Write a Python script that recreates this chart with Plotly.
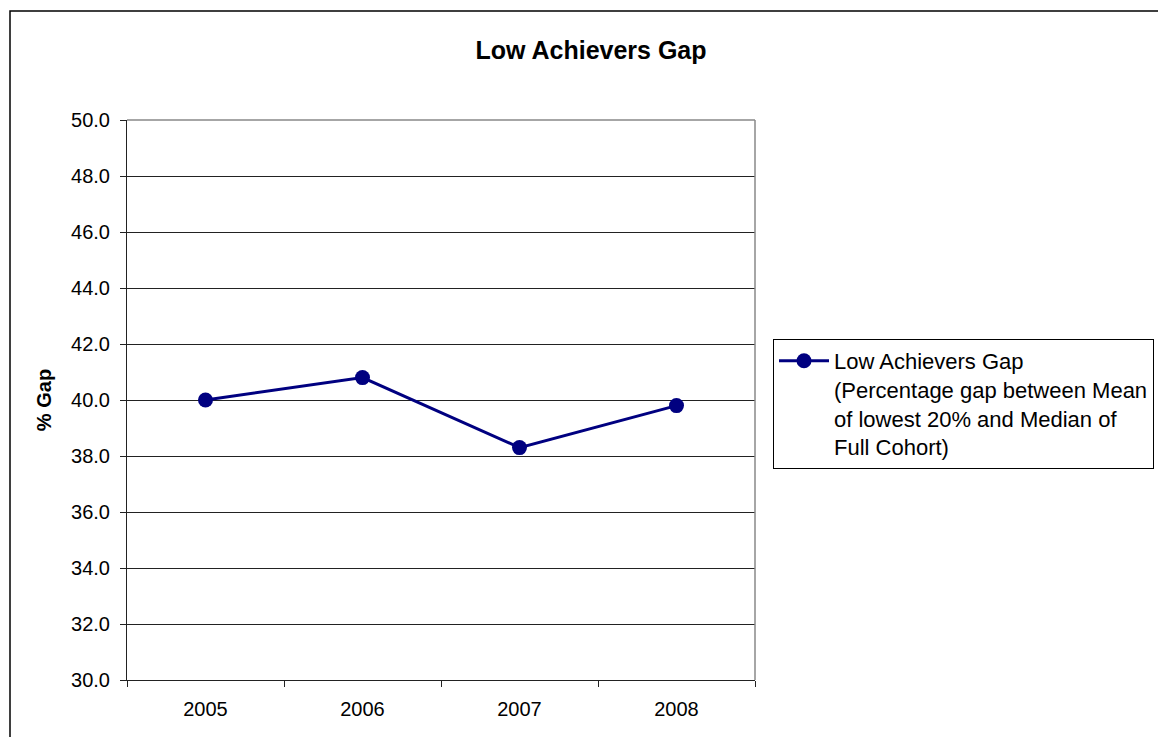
import plotly.graph_objects as go

# Chart data
years = ["2005", "2006", "2007", "2008"]
gap_values = [40.0, 40.8, 38.3, 39.8]
y_ticks = [30.0, 32.0, 34.0, 36.0, 38.0, 40.0, 42.0, 44.0, 46.0, 48.0, 50.0]

series_name = ("Low Achievers Gap<br>(Percentage gap between Mean<br>"
               "of lowest 20% and Median of<br>Full Cohort)")

FONT = "Liberation Sans, Arial, sans-serif"
NAVY = "#000080"

W, H = 1158, 737
L, R, T, B = 127, 755, 120, 680  # plot area in pixels


def px_x(p):
    return (p - L) / (R - L)


def px_y(p):
    return (B - p) / (B - T)


fig = go.Figure()
fig.add_trace(go.Scatter(
    x=years, y=gap_values, name=series_name,
    mode="lines+markers",
    line=dict(color=NAVY, width=3),
    marker=dict(color=NAVY, size=15, symbol="circle"),
    showlegend=True,
))

fig.update_layout(
    width=W, height=H,
    margin=dict(l=L, r=W - R, t=T, b=H - B, autoexpand=False),
    paper_bgcolor="white", plot_bgcolor="white",
    font=dict(family=FONT, color="black", size=20),
    title=dict(
        text="<b>Low Achievers Gap</b>",
        x=591 / W, xref="container", xanchor="center",
        y=1 - 50 / H, yref="container", yanchor="middle",
        font=dict(family=FONT, size=25, color="black"),
    ),
    legend=dict(
        x=px_x(773), xanchor="left",
        y=px_y(339), yanchor="top",
        bordercolor="black", borderwidth=1,
        bgcolor="white",
        font=dict(family=FONT, size=22, color="black"),
        valign="top",
        itemwidth=50,
        tracegroupgap=0,
    ),
    showlegend=True,
)

fig.update_xaxes(
    type="category", range=[-0.5, 3.5],
    tickson="boundaries", ticks="outside", ticklen=6, tickcolor="#222",
    showline=True, linecolor="#222", linewidth=1,
    showgrid=False, zeroline=False,
    tickfont=dict(family=FONT, size=20),
    ticklabelstandoff=11,
)

fig.update_yaxes(
    range=[30, 50], tickmode="array", tickvals=y_ticks,
    ticktext=[f"{v:.1f}" for v in y_ticks],
    ticks="outside", ticklen=6, tickcolor="#222",
    showline=True, linecolor="#222", linewidth=1,
    showgrid=True, gridcolor="#222", gridwidth=1,
    zeroline=False,
    tickfont=dict(family=FONT, size=20),
    ticklabelstandoff=6,
    title=dict(text="<b>% Gap</b>", font=dict(family=FONT, size=20), standoff=14),
)

# Plot-area frame (top and right edges)
fig.add_shape(type="line", xref="paper", yref="paper", x0=0, x1=1, y0=1, y1=1,
              line=dict(color="#888", width=1.5), layer="above")
fig.add_shape(type="line", xref="paper", yref="paper", x0=1, x1=1, y0=0, y1=1,
              line=dict(color="#888", width=1.5), layer="above")

# Chart-area border
fig.add_shape(type="rect", xref="paper", yref="paper",
              x0=px_x(10), x1=px_x(1200), y0=px_y(760), y1=px_y(11),
              line=dict(color="black", width=1.5), fillcolor="rgba(0,0,0,0)",
              layer="above")

fig.write_html("out.html")
